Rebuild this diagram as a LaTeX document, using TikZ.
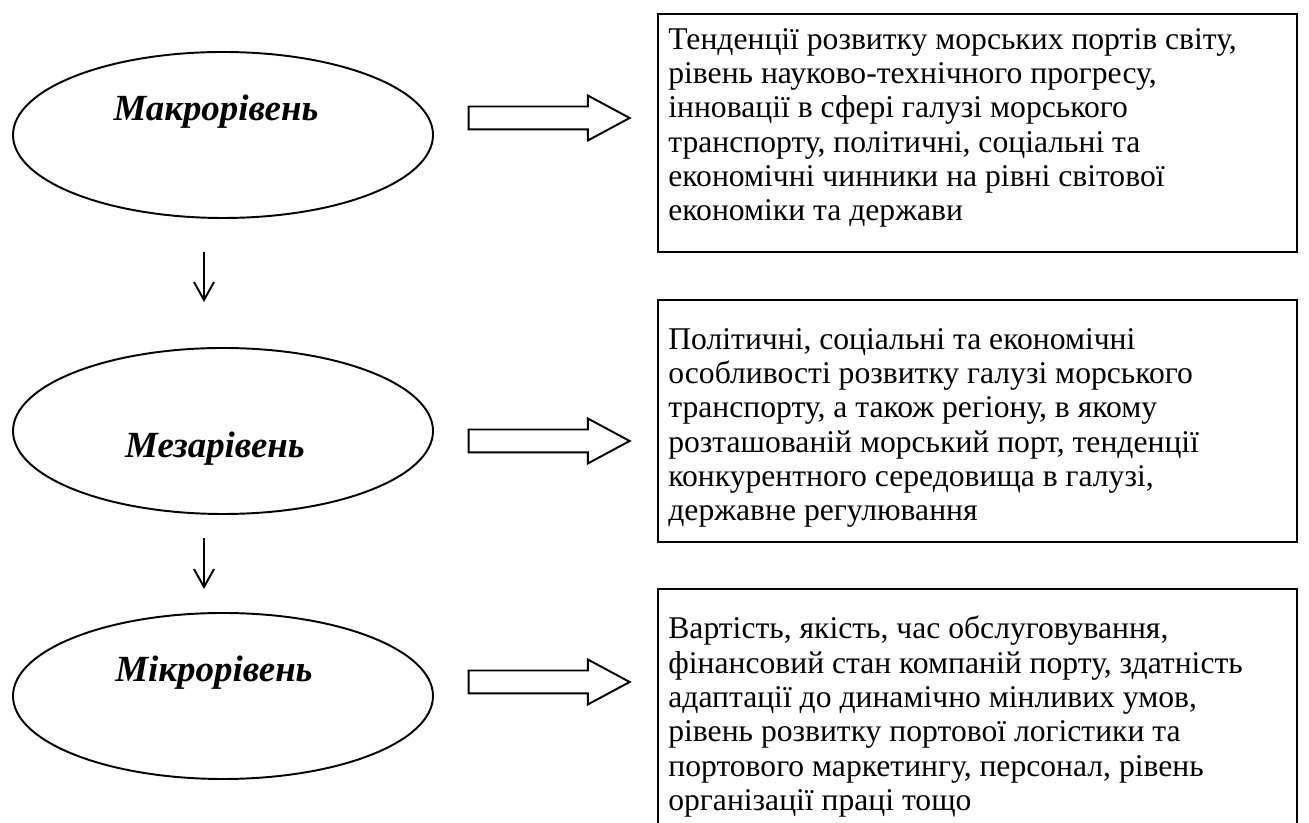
\documentclass[tikz,border=0pt]{standalone}
\usepackage{fontspec}
\setmainfont{Liberation Serif}
\usetikzlibrary{shapes.geometric,shapes.arrows,arrows.meta,positioning,calc}

\begin{document}
\begin{tikzpicture}[
    lvl/.style={ellipse,draw,line width=1.1pt,minimum width=8.4cm,minimum height=3.32cm},
    lvltxt/.style={inner sep=0pt,font=\fontsize{21}{24}\selectfont\bfseries\itshape},
    bigarr/.style={single arrow,draw,line width=1.1pt,minimum height=3.22cm,text height=0.21cm,text depth=0.21cm,single arrow head extend=0.22cm,single arrow tip angle=56.5,inner sep=0pt},
    blk/.style={rectangle,draw,line width=1.1pt,minimum width=12.78cm},
    txt/.style={anchor=north west,inner sep=0pt,align=left,font=\fontsize{18}{19.5}\selectfont},
    arr/.style={-{Straight Barb[length=0.36cm,width=0.4cm]},line width=1.1pt},
]
\useasboundingbox (0,0) rectangle (26.18,16.46);

% Levels
\node[lvl] (macro) at (4.46,13.76) {};
\node[lvltxt] (macrotxt) at (4.32,14.22) {Макрорівень};
\node[lvl] (meso) at (4.46,7.84) {};
\node[lvltxt] (mesotxt) at (4.30,7.48) {Мезарівень};
\node[lvl] (micro) at (4.46,2.54) {};
\node[lvltxt] (microtxt) at (4.28,3.00) {Мікрорівень};

% Block arrows
\node[bigarr] (macroarr) at (10.77,14.10) {};
\node[bigarr] (mesoarr) at (10.77,7.64) {};
\node[bigarr] (microarr) at (10.77,2.82) {};

% Factor boxes
\node[blk,minimum height=4.76cm] (macrobox) at (19.55,13.80) {};
\node[txt] (macrofac) at (13.36,15.90) {Тенденції розвитку морських портів світу,\\
рівень науково-технічного прогресу,\\
інновації в сфері галузі морського\\
транспорту, політичні, соціальні та\\
економічні чинники на рівні світової\\
економіки та держави};
\node[blk,minimum height=4.84cm] (mesobox) at (19.55,8.04) {};
\node[txt] (mesofac) at (13.36,9.90) {Політичні, соціальні та економічні\\
особливості розвитку галузі морського\\
транспорту, а також регіону, в якому\\
розташованій морський порт, тенденції\\
конкурентного середовища в галузі,\\
державне регулювання};
\node[blk,minimum height=4.92cm] (microbox) at (19.55,2.22) {};
\node[txt] (microfac) at (13.36,4.14) {Вартість, якість, час обслуговування,\\
фінансовий стан компаній порту, здатність\\
адаптації до динамічно мінливих умов,\\
рівень розвитку портової логістики та\\
портового маркетингу, персонал, рівень\\
організації праці тощо};

% Arrows
\draw[arr] ([xshift=-0.38cm,yshift=-0.66cm]macro.south) -- ([xshift=-0.38cm,yshift=0.9cm]meso.north);
\draw[arr] ([xshift=-0.38cm,yshift=-0.46cm]meso.south) -- ([xshift=-0.38cm,yshift=0.46cm]micro.north);
\end{tikzpicture}
\end{document}
